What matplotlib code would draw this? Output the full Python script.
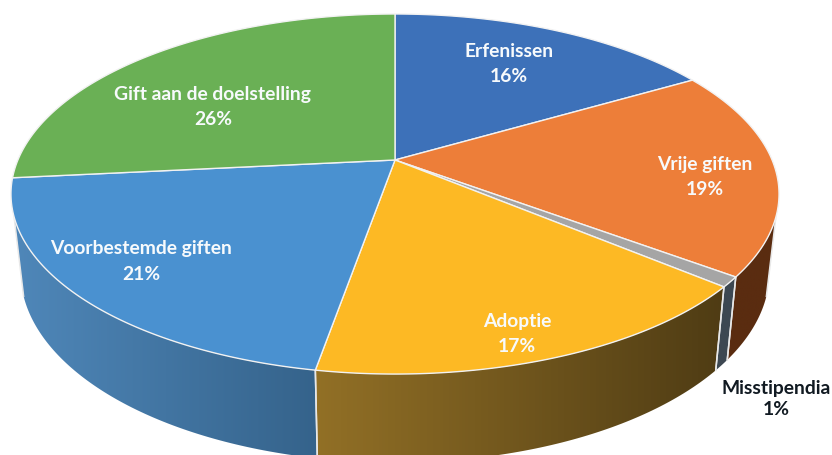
import numpy as np
import matplotlib
matplotlib.use("Agg")
import matplotlib.pyplot as plt
from matplotlib.patches import Polygon
from matplotlib.colors import LinearSegmentedColormap

# slices clockwise from 12 o'clock
labels = ["Erfenissen", "Vrije giften", "Misstipendia", "Adoptie", "Voorbestemde giften", "Gift aan de doelstelling"]
percent_text = ["16%", "19%", "1%", "17%", "21%", "26%"]
shares = [16.6, 18.6, 0.9, 16.65, 20.65, 26.6]  # as measured from the slice angles
top_colors = ["#3d71b9", "#ed7e39", "#a5a5a5", "#fdb924", "#4a91d0", "#6ab055"]
side_left = ["#3d71b9", "#5a2c10", "#3d4852", "#927026", "#4f87b9", "#6ab055"]
side_right = ["#3d71b9", "#5a2c10", "#3d4852", "#4f3c14", "#35638b", "#6ab055"]

plt.rcParams["font.family"] = ["Lato", "DejaVu Sans"]

# projection of the tilted disc, in pixels
cx, cy = 395, 161
A, B, k = 377.1, 173.6, 0.189
depth_a, depth_b, shrink = 67, 1.057, 0.975
front_start, front_end = 108, 252  # visible part of the rim, degrees


def rim(theta):
    t = np.radians(theta)
    w = 1 + k * np.cos(t)
    return cx + A * np.sin(t) / w, cy - B * np.cos(t) / w


def lower(x, y):
    return cx + (x - cx) * shrink, depth_a + depth_b * y


fig = plt.figure(figsize=(8.32, 4.56), dpi=100)
ax = fig.add_axes([0, 0, 1, 1])
ax.set_xlim(0, 832)
ax.set_ylim(456, 0)
ax.axis("off")

edges = np.cumsum([0] + shares) / sum(shares) * 360

# rim first, so the top covers it
for i in [1, 4, 3, 2]:
    a0 = max(edges[i], front_start)
    a1 = min(edges[i + 1], front_end)
    th = np.linspace(a0, a1, 80)
    x, y = rim(th)
    xb, yb = lower(x, y)
    px = np.r_[x, xb[::-1]]
    py = np.r_[y, yb[::-1]]
    poly = Polygon(np.c_[px, py], closed=True, facecolor="none", edgecolor="none")
    ax.add_patch(poly)
    cmap = LinearSegmentedColormap.from_list("s", [side_left[i], side_right[i]])
    # colour runs left to right across the slice
    im = ax.imshow(np.linspace(0, 1, 128)[None, :], cmap=cmap, aspect="auto",
                   extent=(px.min(), px.max(), py.max(), py.min()), zorder=1)
    im.set_clip_path(poly)
    ax.plot(px[[0, -1]], py[[0, -1]], color="#e8e8e8", lw=1.1, zorder=2)
    ax.plot(px[[len(x) - 1, len(x)]], py[[len(x) - 1, len(x)]], color="#e8e8e8", lw=1.1, zorder=2)

# top of the disc
for i in range(len(shares)):
    th = np.linspace(edges[i], edges[i + 1], 120)
    x, y = rim(th)
    ax.add_patch(Polygon(np.c_[np.r_[cx, x], np.r_[cy, y]], closed=True,
                         facecolor=top_colors[i], edgecolor="#f2f2f2", lw=1.0, zorder=3))

ax.set_xlim(0, 832)
ax.set_ylim(456, 0)

label_pos = [(509, 64), (705, 177), (776, 399), (517, 334), (141, 261.5), (213, 107)]
for i, (lx, ly) in enumerate(label_pos):
    dark = labels[i] == "Misstipendia"
    ax.text(lx, ly, f"{labels[i]}\n{percent_text[i]}", color="#111a22" if dark else "#f7fafc",
            fontsize=13.9, fontweight="bold", ha="center", va="center",
            linespacing=1.35 if dark else 1.6, zorder=5)

fig.savefig("out.png", dpi=100)
